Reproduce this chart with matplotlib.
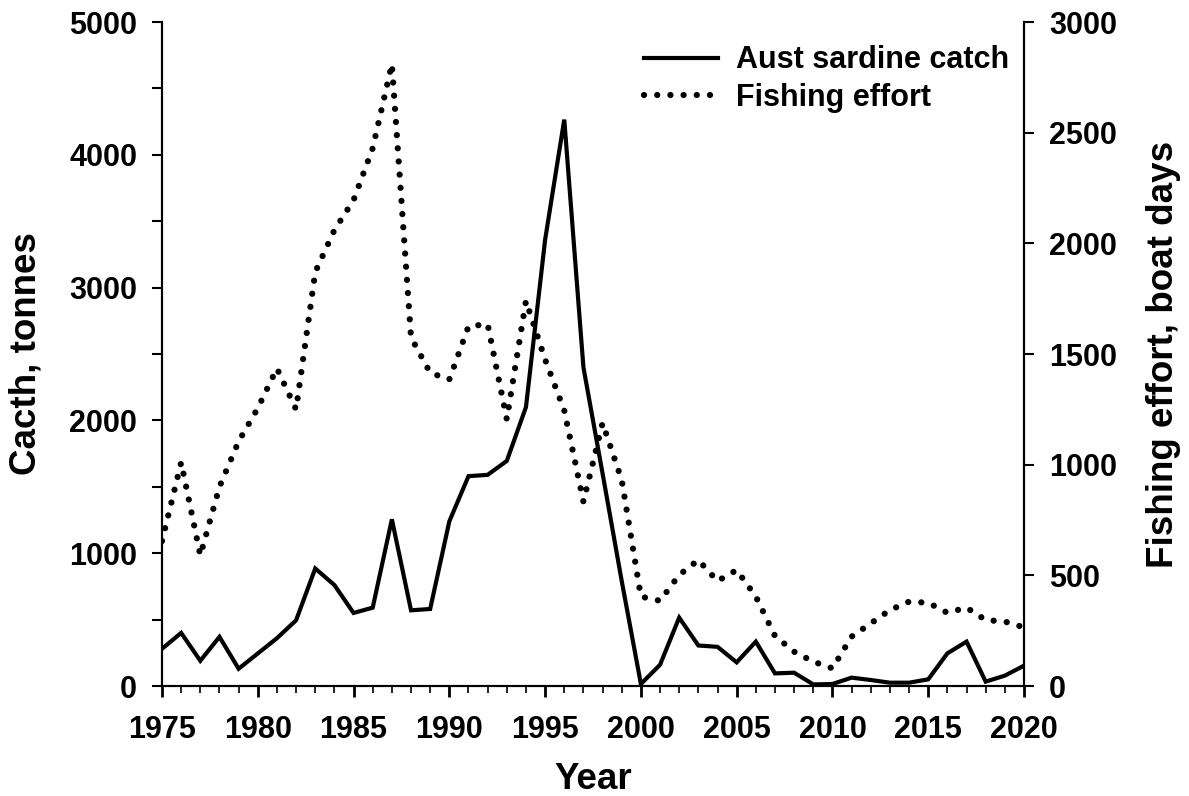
import matplotlib
matplotlib.use("Agg")
import matplotlib.pyplot as plt
from matplotlib.ticker import MultipleLocator

plt.rcParams['font.family'] = ['Liberation Sans', 'DejaVu Sans']
plt.rcParams['font.weight'] = 'bold'

years = list(range(1975, 2021))

# Australian sardine catch, tonnes (left axis)
catch = [280, 400, 190, 370, 130, 245, 360, 495, 885, 760,
         550, 590, 1255, 570, 580, 1240, 1580, 1590, 1695, 2100,
         3360, 4265, 2400, 1600, 790, 15, 160, 515, 305, 295,
         178, 334, 95, 100, 12, 15, 63, 45, 25, 25,
         50, 246, 334, 33, 78, 153]

# Fishing effort, boat days (right axis)
effort = [655, 1010, 590, 900, 1105, 1255, 1435, 1250, 1870, 2060,
          2195, 2430, 2810, 1575, 1415, 1385, 1625, 1635, 1205, 1740,
          1475, 1245, 833, 1188, 930, 404, 385, 502, 569, 474,
          524, 404, 226, 155, 110, 80, 223, 283, 343, 381,
          376, 331, 354, 298, 291, 265]

fig = plt.figure(figsize=(11.89, 7.96), dpi=100)
ax = fig.add_axes([162 / 1189, 110 / 796, 862 / 1189, 664 / 796])
ax2 = ax.twinx()

l1, = ax.plot(years, catch, color='black', lw=3, solid_joinstyle='miter',
              label='Aust sardine catch')
l2, = ax2.plot(years, effort, color='black', lw=4.5,
               linestyle=(0, (0.01, 2.1)), dash_capstyle='round',
               label='Fishing effort')

ax.set_xlim(1975, 2020)
ax.set_ylim(0, 5000)
ax2.set_ylim(0, 3000)

ax.xaxis.set_major_locator(MultipleLocator(5))
ax.xaxis.set_minor_locator(MultipleLocator(1))
ax.yaxis.set_major_locator(MultipleLocator(1000))
ax.yaxis.set_minor_locator(MultipleLocator(500))
ax2.yaxis.set_major_locator(MultipleLocator(500))

for a in (ax, ax2):
    a.spines['top'].set_visible(False)
    for s in ('left', 'right', 'bottom'):
        a.spines[s].set_linewidth(1.5)

ax.tick_params(axis='x', which='major', direction='out', length=8, width=2,
               labelsize=22, pad=13)
ax.tick_params(axis='x', which='minor', direction='out', length=5, width=1.2)
ax.tick_params(axis='y', which='both', direction='out', length=7, width=1.5,
               labelsize=22, pad=11)
ax2.tick_params(axis='y', direction='out', length=7, width=1.5,
                labelsize=22, pad=11)

ax.set_xlabel('Year', fontsize=26.5, fontweight='bold')
ax.set_ylabel('Cacth, tonnes', fontsize=26.5, fontweight='bold')
ax2.set_ylabel('Fishing effort, boat days', fontsize=26.5, fontweight='bold')
ax.xaxis.set_label_coords(0.5, -0.115)
ax.yaxis.set_label_coords(-0.137, 0.5)
ax2.yaxis.set_label_coords(1.142, 0.5)

ax.legend(handles=[l1, l2], loc='upper right', frameon=False,
          bbox_to_anchor=(0.99, 0.974),
          fontsize=22, handlelength=2.4, handletextpad=0.6,
          labelspacing=0.25, borderaxespad=0.0, borderpad=0.2)

fig.savefig('out.png', dpi=100)
